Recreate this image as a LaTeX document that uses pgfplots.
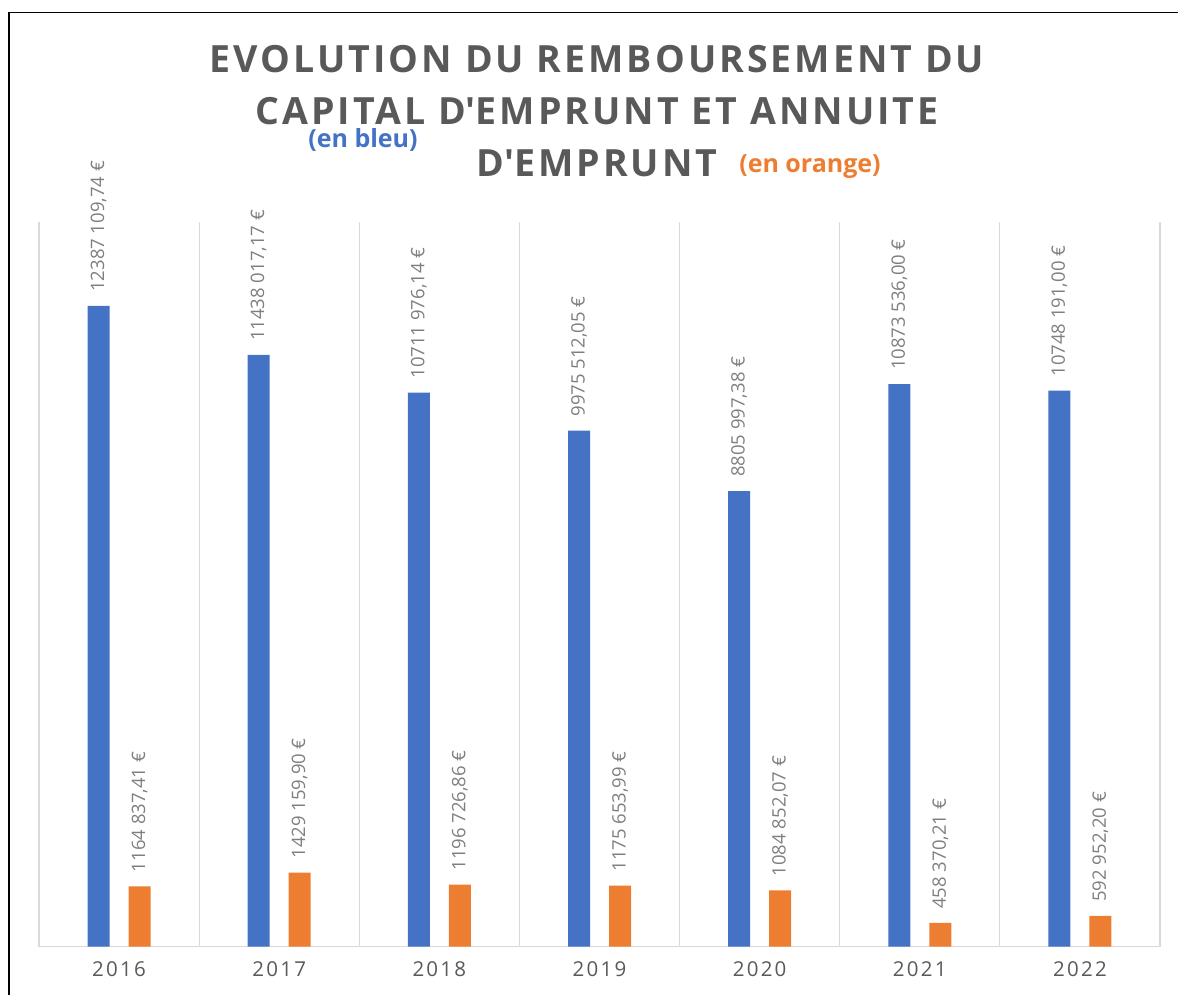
\documentclass[border=0pt]{standalone}
\usepackage{fontspec}
\usepackage{pgfplots}
\pgfplotsset{compat=1.18}
\setmainfont{Open Sans}
\newfontfamily\titlefont[LetterSpace=8]{Open Sans}
\newfontfamily\tickfont[LetterSpace=11]{Open Sans}
\definecolor{cblue}{HTML}{4472C4}
\definecolor{corange}{HTML}{ED7D31}
\definecolor{cgrid}{HTML}{D9D9D9}
\definecolor{ctitle}{HTML}{595959}
\definecolor{clabel}{HTML}{7F7F7F}
\begin{document}
\begin{tikzpicture}[x=1pt,y=1pt]
\useasboundingbox (0,0) rectangle (1178,994);
\draw[black, line width=1.5pt] (9,-5) -- (9,981.5) -- (1185,981.5);
\begin{axis}[
  at={(39pt,47.5pt)}, anchor=south west,
  scale only axis, width=1121pt, height=724pt,
  xmin=-0.5, xmax=6.5, ymin=0, ymax=14000000,
  axis x line=bottom, axis y line=none,
  x axis line style={-, draw=cgrid, line width=1.2pt},
  ytick=\empty,
  xtick={0,1,2,3,4,5,6},
  xticklabels={2016,2017,2018,2019,2020,2021,2022},
  major tick length=0pt,
  xticklabel style={font=\tickfont\fontsize{20.5}{20.5}\selectfont, text=ctitle, yshift=-12pt},
  extra x ticks={-0.5,0.5,1.5,2.5,3.5,4.5,5.5,6.5},
  extra x tick labels={},
  extra x tick style={grid=major, major grid style={draw=cgrid, line width=1.2pt}},
  ybar, bar width=22pt,
  point meta=explicit symbolic,
  nodes near coords,
  nodes near coords style={rotate=90, anchor=west, inner xsep=14pt, inner ysep=0pt,
    font=\fontsize{18.5}{18.5}\selectfont, text=clabel},
  clip=false,
]
\addplot[fill=cblue, draw=none, bar shift=-20.5pt] coordinates {
  (0,12387109.74) [12387 109,74 €]
  (1,11438017.17) [11438 017,17 €]
  (2,10711976.14) [10711 976,14 €]
  (3,9975512.05) [9975 512,05 €]
  (4,8805997.38) [8805 997,38 €]
  (5,10873536.00) [10873 536,00 €]
  (6,10748191.00) [10748 191,00 €]
};
\addplot[fill=corange, draw=none, bar shift=20.5pt] coordinates {
  (0,1164837.41) [1164 837,41 €]
  (1,1429159.90) [1429 159,90 €]
  (2,1196726.86) [1196 726,86 €]
  (3,1175653.99) [1175 653,99 €]
  (4,1084852.07) [1084 852,07 €]
  (5,458370.21) [458 370,21 €]
  (6,592952.20) [592 952,20 €]
};
\end{axis}
\begin{scope}[every node/.style={anchor=base, inner sep=0pt}]
\node[font=\titlefont\bfseries\fontsize{37.5}{40}\selectfont, text=ctitle] at (597,921) {EVOLUTION DU REMBOURSEMENT DU};
\node[font=\titlefont\bfseries\fontsize{37.5}{40}\selectfont, text=ctitle] at (597,869) {CAPITAL D\textquotesingle EMPRUNT ET ANNUITE};
\node[font=\titlefont\bfseries\fontsize{37.5}{40}\selectfont, text=ctitle] at (597,817) {D\textquotesingle EMPRUNT};
\node[font=\bfseries\fontsize{25}{25}\selectfont, text=cblue] at (363,846) {(en bleu)};
\node[font=\bfseries\fontsize{25}{25}\selectfont, text=corange] at (810,821) {(en orange)};
\end{scope}
\end{tikzpicture}
\end{document}
